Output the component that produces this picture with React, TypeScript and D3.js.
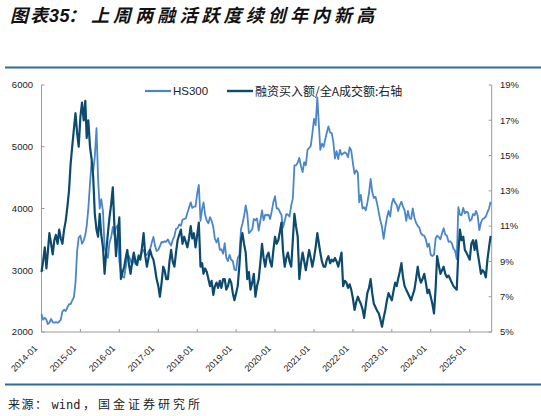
import React from 'react';
import * as d3 from 'd3';

// HS300, semi-monthly (1st / 16th of each month), 2014-01 .. 2025-07
const hs300: number[] = [
  2290, 2200, 2230, 2200, 2130, 2150, 2210, 2160, 2150, 2160, 2150, 2165, 2200, 2330, 2360, 2340, 2400, 2450, 2450, 2510, 2560, 2800, 3300, 3530,
  3560, 3430, 3480, 3570, 3720, 3990, 4400, 4750, 4600, 4840, 5300, 4480, 4000, 4150, 3950, 3370, 3270, 3200, 3450, 3530, 3700, 3570, 3690, 3730,
  3150, 2950, 2900, 2880, 3050, 3220, 3230, 3160, 3090, 3170, 3100, 3150, 3250, 3200, 3300, 3330, 3250, 3250, 3300, 3340, 3450, 3540, 3400, 3310,
  3330, 3390, 3460, 3450, 3470, 3460, 3500, 3440, 3400, 3490, 3550, 3670, 3680, 3740, 3720, 3820, 3830, 3840, 3930, 4010, 4100, 4010, 4030, 4030,
  4250, 4380, 3800, 3990, 4100, 3900, 3800, 3760, 3860, 3800, 3700, 3510, 3450, 3520, 3330, 3340, 3270, 3440, 3200, 3150, 3250, 3170, 3150, 3010,
  3000, 3200, 3250, 3670, 3750, 3870, 4050, 3910, 3600, 3630, 3660, 3830, 3810, 3840, 3640, 3800, 3970, 3810, 3900, 3890, 3900, 3830, 3950, 4100,
  4200, 4000, 4000, 3940, 3900, 3690, 3800, 3910, 3900, 3870, 4050, 4160, 4700, 4700, 4740, 4820, 4680, 4590, 4750, 4700, 4950, 4980, 5010, 5210,
  5450, 5350, 5800, 5340, 4950, 5050, 5000, 5120, 5230, 5330, 5230, 5220, 5080, 4810, 4930, 4800, 4950, 4870, 4890, 4910, 4890, 4830, 4990, 4940,
  4730, 4560, 4620, 4580, 4100, 4220, 4000, 4020, 3970, 4090, 4250, 4480, 4270, 4170, 4190, 4080, 3930, 3800, 3700, 3510, 3700, 3850, 3960, 3870,
  4080, 4160, 4090, 4060, 3960, 4050, 4110, 4030, 3970, 3800, 3960, 3840, 3830, 4000, 3850, 3770, 3720, 3690, 3600, 3570, 3560, 3500, 3380, 3430,
  3250, 3230, 3250, 3520, 3560, 3540, 3500, 3600, 3680, 3580, 3560, 3460, 3470, 3440, 3350, 3320, 3180, 4020, 3900, 3890, 4010, 3920, 3950, 3930,
  3800, 3820, 3910, 3890, 3960, 3890, 3650, 3770, 3830, 3840, 3870, 3940, 4000, 4110,
];

// 融资买入额 / 全A成交额 (%), same semi-monthly dates
const marginRatio: number[] = [
  8.4, 9.0, 9.8, 8.6, 9.5, 10.6, 10.0, 9.4, 10.2, 10.5, 10.0, 10.8, 10.3, 10.0, 10.8, 11.3, 12.1, 13.0, 14.5, 15.5, 16.5, 17.4, 16.3, 15.5,
  17.2, 18.0, 17.0, 18.1, 16.0, 17.0, 15.5, 14.8, 13.8, 11.7, 10.8, 10.4, 11.7, 10.5, 9.8, 8.3, 9.6, 10.6, 11.5, 12.2, 13.2, 11.0, 9.3, 10.4,
  11.5, 8.0, 8.4, 8.7, 9.2, 9.65, 8.8, 8.3, 9.0, 9.5, 9.0, 8.8, 9.3, 9.1, 9.8, 10.6, 9.3, 8.7, 9.2, 9.65, 9.3, 9.1, 8.6, 8.0,
  7.6, 7.0, 7.8, 8.7, 8.5, 8.0, 8.0, 9.0, 9.65, 9.0, 8.7, 9.5, 10.2, 10.5, 10.8, 10.0, 10.4, 10.1, 9.8, 10.3, 11.0, 10.3, 10.6, 9.8,
  10.5, 11.2, 8.7, 8.9, 8.3, 8.6, 8.4, 8.0, 7.6, 7.9, 7.1, 7.6, 7.8, 7.5, 7.9, 7.5, 8.0, 8.0, 7.4, 7.6, 8.0, 7.8, 7.2, 6.8,
  7.2, 7.6, 8.8, 10.2, 10.6, 10.0, 9.5, 8.0, 8.4, 7.4, 7.8, 8.3, 7.0, 7.6, 8.0, 8.9, 10.0, 9.2, 8.7, 9.3, 9.5, 9.0, 8.7, 9.6,
  10.4, 10.0, 10.2, 10.7, 11.2, 9.6, 8.7, 9.2, 9.5, 9.0, 8.7, 10.2, 11.7, 11.0, 10.4, 8.0, 8.9, 9.5, 9.0, 8.5, 9.1, 9.65, 9.2, 8.7,
  9.2, 9.8, 10.6, 10.0, 9.5, 9.0, 8.7, 8.7, 9.1, 9.3, 8.9, 9.1, 9.0, 9.2, 9.0, 8.7, 9.1, 9.5, 7.6, 7.9, 7.8, 7.5, 7.7, 7.4,
  6.9, 6.25, 6.7, 7.0, 6.8, 6.6, 6.3, 5.8, 6.5, 7.2, 7.5, 8.0, 7.2, 6.6, 6.4, 6.2, 6.05, 5.7, 5.3, 5.8, 6.25, 6.8, 7.2, 7.0,
  6.8, 7.3, 7.8, 7.6, 8.0, 8.4, 8.9, 8.1, 7.6, 7.4, 7.2, 7.0, 6.8, 7.1, 7.4, 8.0, 8.7, 8.1, 7.8, 8.0, 8.3, 7.8, 7.2, 7.4,
  7.0, 6.6, 6.05, 7.5, 9.3, 8.8, 8.3, 8.5, 8.7, 8.3, 8.1, 8.2, 8.0, 7.8, 7.6, 7.5, 7.4, 9.5, 10.8, 10.2, 10.4, 9.65, 9.5, 9.3,
  9.1, 10.0, 10.2, 9.65, 10.2, 9.5, 8.9, 8.3, 8.5, 8.4, 8.1, 9.1, 9.8, 10.45,
];

const xTickLabels = ['2014-01', '2015-01', '2016-01', '2017-01', '2018-01', '2019-01', '2020-01', '2021-01', '2022-01', '2023-01', '2024-01', '2025-01'];
const leftTicks = [2000, 3000, 4000, 5000, 6000];
const rightTicks = [5, 7, 9, 11, 13, 15, 17, 19];
const legendLabels = ['HS300', '融资买入额/全A成交额:右轴'];

const W = 541;
const H = 416;
const P = { left: 41.5, right: 491.7, top: 85, bottom: 332 };
const C_LIGHT = '#4a86c8';
const C_DARK = '#0c4a6e';
const C_AXIS = '#9a9a9a';
const C_RULE = '#2f6d94';
const SANS = '"Liberation Sans", Arial, sans-serif';
const CJK = '"Noto Sans CJK SC", sans-serif';

export default function App() {
  const dates = hs300.map((_, i) => new Date(2014, Math.floor(i / 2), i % 2 ? 16 : 1));
  const x = d3.scaleTime().domain([new Date(2014, 0, 1), new Date(2025, 6, 26)]).range([P.left, P.right]);
  const yL = d3.scaleLinear().domain([2000, 6000]).range([P.bottom, P.top]);
  const yR = d3.scaleLinear().domain([5, 19]).range([P.bottom, P.top]);
  const lineL = d3.line<number>().x((_, i) => x(dates[i])).y((d) => yL(d));
  const lineR = d3.line<number>().x((_, i) => x(dates[i])).y((d) => yR(d));
  const tickDates = xTickLabels.map((s) => {
    const [yy, mm] = s.split('-').map(Number);
    return new Date(yy, mm - 1, 1);
  });

  return (
    <svg width={W} height={H} style={{ position: 'absolute', left: 0, top: 0, background: '#fff' }}>
      <rect width={W} height={H} fill="#fff" />
      {/* title */}
      <text y={22} fill="#111" fontFamily={CJK} fontSize={18} fontWeight={700} fontStyle="italic">
        <tspan x={10} letterSpacing={2}>图表</tspan>
        <tspan x={49} fontFamily={SANS} letterSpacing={0.5}>35</tspan>
        <tspan x={68}>：</tspan>
        <tspan x={91} letterSpacing={4.1}>上周两融活跃度续创年内新高</tspan>
      </text>
      <line x1={5} x2={541} y1={67.5} y2={67.5} stroke={C_RULE} strokeWidth={2} />
      <line x1={5} x2={541} y1={384.5} y2={384.5} stroke={C_RULE} strokeWidth={2} />

      {/* legend */}
      <line x1={145} x2={171} y1={91} y2={91} stroke={C_LIGHT} strokeWidth={2.2} />
      <text x={173} y={95} fontFamily={SANS} fontSize={11.5} fill="#222">{legendLabels[0]}</text>
      <line x1={227} x2={253} y1={91} y2={91} stroke={C_DARK} strokeWidth={2.4} />
      <text x={255} y={95.5} fontFamily={CJK} fontSize={12} fill="#222">{legendLabels[1]}</text>

      {/* axes */}
      <g stroke={C_AXIS} strokeWidth={1} fill="none">
        <line x1={P.left} x2={P.left} y1={P.top} y2={P.bottom} />
        <line x1={P.right} x2={P.right} y1={P.top} y2={P.bottom} />
        <line x1={P.left} x2={P.right} y1={P.bottom} y2={P.bottom} />
        {leftTicks.map((t) => (
          <line key={'lt' + t} x1={P.left} x2={P.left + 3} y1={yL(t)} y2={yL(t)} />
        ))}
        {rightTicks.map((t) => (
          <line key={'rt' + t} x1={P.right - 3} x2={P.right} y1={yR(t)} y2={yR(t)} />
        ))}
        {tickDates.map((d, i) => (
          <line key={'xt' + i} x1={x(d)} x2={x(d)} y1={P.bottom} y2={P.bottom - 3} />
        ))}
      </g>
      <g fontFamily={SANS} fontSize={9.5} fill="#222">
        {leftTicks.map((t) => (
          <text key={'ll' + t} x={33} y={yL(t)} dy="0.35em" textAnchor="end">{t}</text>
        ))}
        {rightTicks.map((t) => (
          <text key={'rl' + t} x={500} y={yR(t)} dy="0.35em">{t + '%'}</text>
        ))}
        {tickDates.map((d, i) => (
          <text key={'xl' + i} fontSize={9} textAnchor="end" transform={`translate(${x(d) - 3.5},${349}) rotate(-45)`}>{xTickLabels[i]}</text>
        ))}
      </g>

      {/* series */}
      <path d={lineL(hs300) ?? ''} fill="none" stroke={C_LIGHT} strokeWidth={1.8} strokeLinejoin="round" />
      <path d={lineR(marginRatio) ?? ''} fill="none" stroke={C_DARK} strokeWidth={2.2} strokeLinejoin="round" />

      {/* source */}
      <text y={408.5} fontSize={12} fill="#222" fontFamily={CJK}>
        <tspan x={8} letterSpacing={1.5}>来源：</tspan>
        <tspan x={51.5} fontFamily='"DejaVu Sans Mono", monospace' fontSize={12}>wind</tspan>
        <tspan x={83} letterSpacing={3}>，国金证券研究所</tspan>
      </text>
    </svg>
  );
}
